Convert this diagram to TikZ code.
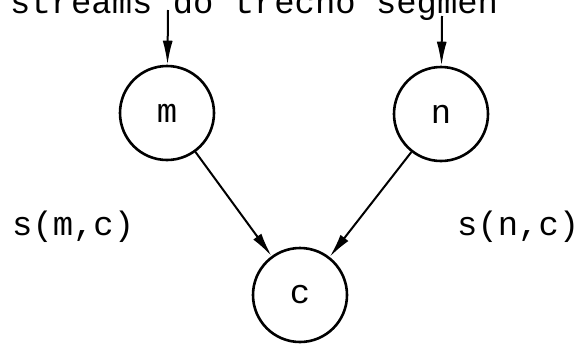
\documentclass[tikz,border=0pt]{standalone}
\usepackage{fontspec}
\setmainfont{Liberation Mono}
\usetikzlibrary{arrows.meta,positioning}

\begin{document}
\begin{tikzpicture}[
		x=1bp,y=-1bp,
		vertex/.style={draw,circle,line width=2.6bp,minimum size=94bp,inner sep=0pt,font=\fontsize{34}{40}\selectfont},
		lbl/.style={inner sep=0pt,font=\fontsize{34}{40}\selectfont},
		arr/.style={-{Latex[length=24bp,width=10bp]},line width=2bp}
	]
	\useasboundingbox (0,0) rectangle (579,343);
	\node[lbl,anchor=base west] (head) at (10,13) {streams do trecho segmen};
	\node[vertex] (m) at (167,113) {m};
	\node[vertex] (n) at (441,114) {n};
	\node[vertex] (c) at (300,295) {c};
	\coordinate (mtop) at (168,10);
	\coordinate (ntop) at (442,16);
	\node[lbl,anchor=base west] (smc) at (12,235) {s(m,c)};
	\node[lbl,anchor=base west] (snc) at (457,235) {s(n,c)};
	\draw[arr] (mtop)--(m);
	\draw[arr] (ntop)--(n);
	\draw[arr] (m)--(c);
	\draw[arr] (n)--(c);
\end{tikzpicture}
\end{document}
